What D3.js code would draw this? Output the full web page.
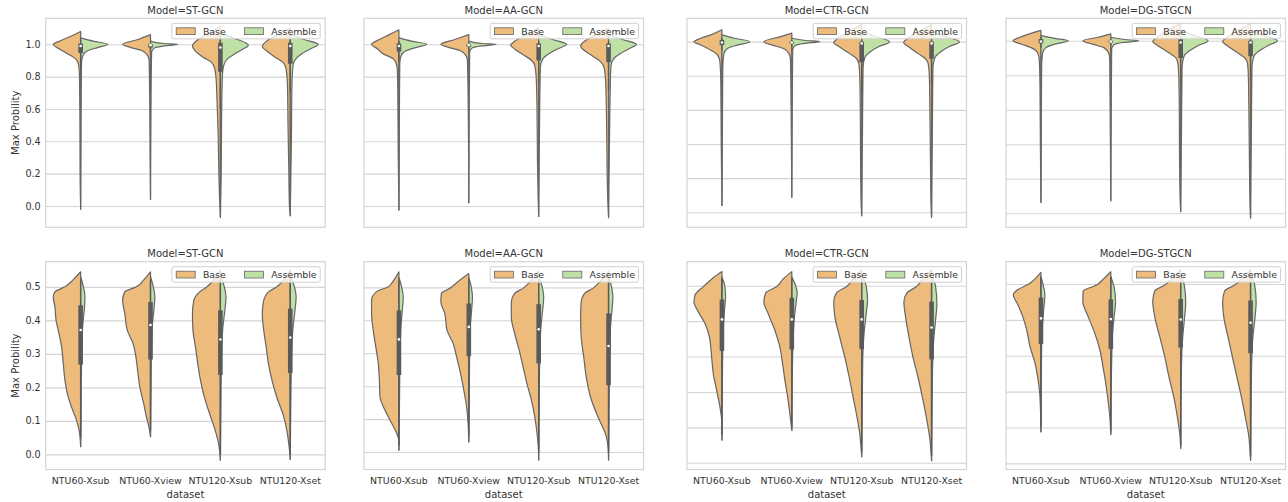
<!DOCTYPE html>
<html>
<head>
<meta charset="utf-8">
<script src="https://cdn.jsdelivr.net/npm/d3@7"></script>
<style>
  body { margin: 0; background: #fff; }
  text { font-family: "DejaVu Sans", sans-serif; fill: #333; }
</style>
</head>
<body>
<div id="chart"></div>
<script>
// Facets and groups
const models = ["ST-GCN", "AA-GCN", "CTR-GCN", "DG-STGCN"];
const datasets = ["NTU60-Xsub", "NTU60-Xview", "NTU120-Xsub", "NTU120-Xset"];
const hues = ["Base", "Assemble"];

// Y ticks for the two rows
const topTicks = [0, 0.2, 0.4, 0.6, 0.8, 1.0];
const bottomTicks = [0, 0.1, 0.2, 0.3, 0.4, 0.5];

// Y ranges (row 1, row 2)
const topDomains = [[-0.132, 1.161], [-0.132, 1.161], [-0.088, 1.137], [-0.081, 1.13]];
const bottomDomains = [[-0.045, 0.575], [-0.053, 0.578], [-0.019, 0.568], [-0.017, 0.562]];

// Half-violin outlines: [value, relative half width], one list per dataset, one block per model
const topBase = [
  [ // ST-GCN
    [[1.08,0],[1.05,0.35],[1.02,0.75],[1.0,0.98],[0.97,0.75],[0.945,0.5],[0.91,0.18],[0.88,0.08],[0.8,0.04],[0.5,0.025],[0.2,0.02],[-0.02,0]],
    [[1.06,0],[1.03,0.45],[1.0,1.0],[0.98,0.7],[0.96,0.3],[0.93,0.1],[0.9,0.05],[0.6,0.025],[0.3,0.015],[0.04,0]],
    [[1.11,0],[1.07,0.4],[1.03,0.8],[0.99,1.0],[0.96,0.9],[0.92,0.62],[0.89,0.33],[0.86,0.22],[0.8,0.16],[0.65,0.12],[0.45,0.08],[0.25,0.06],[0.05,0.03],[-0.07,0]],
    [[1.1,0],[1.06,0.45],[1.02,0.85],[0.985,1.0],[0.96,0.85],[0.925,0.58],[0.89,0.27],[0.85,0.15],[0.75,0.1],[0.5,0.08],[0.2,0.05],[0.0,0.03],[-0.06,0]]
  ],
  [ // AA-GCN
    [[1.09,0],[1.06,0.35],[1.03,0.7],[1.0,0.98],[0.97,0.75],[0.945,0.6],[0.91,0.2],[0.89,0.12],[0.85,0.06],[0.7,0.04],[0.3,0.025],[-0.025,0]],
    [[1.06,0],[1.03,0.5],[1.0,1.0],[0.98,0.7],[0.96,0.3],[0.93,0.1],[0.9,0.05],[0.6,0.02],[0.02,0]],
    [[1.1,0],[1.06,0.45],[1.02,0.85],[0.995,1.0],[0.97,0.85],[0.93,0.5],[0.9,0.25],[0.87,0.14],[0.8,0.09],[0.6,0.06],[0.3,0.045],[0.05,0.02],[-0.065,0]],
    [[1.1,0],[1.06,0.45],[1.02,0.85],[0.99,1.0],[0.96,0.85],[0.925,0.55],[0.89,0.27],[0.85,0.15],[0.75,0.1],[0.5,0.07],[0.2,0.05],[0.0,0.02],[-0.072,0]]
  ],
  [ // CTR-GCN
    [[1.07,0],[1.04,0.4],[1.02,0.75],[1.0,1.0],[0.98,0.75],[0.95,0.4],[0.92,0.15],[0.88,0.07],[0.75,0.04],[0.4,0.025],[0.04,0]],
    [[1.05,0],[1.03,0.4],[1.0,1.0],[0.98,0.7],[0.96,0.3],[0.93,0.1],[0.9,0.05],[0.5,0.02],[0.088,0]],
    [[1.1,0],[1.06,0.45],[1.02,0.85],[0.995,1.0],[0.97,0.8],[0.93,0.43],[0.9,0.18],[0.87,0.1],[0.8,0.07],[0.6,0.05],[0.3,0.04],[0.05,0.02],[-0.02,0]],
    [[1.1,0],[1.06,0.45],[1.02,0.85],[0.995,1.0],[0.97,0.82],[0.93,0.48],[0.9,0.22],[0.87,0.12],[0.8,0.08],[0.6,0.06],[0.3,0.04],[0.05,0.02],[-0.03,0]]
  ],
  [ // DG-STGCN
    [[1.06,0],[1.04,0.4],[1.02,0.75],[1.0,1.0],[0.98,0.7],[0.96,0.35],[0.93,0.12],[0.89,0.06],[0.75,0.035],[0.4,0.02],[0.064,0]],
    [[1.04,0],[1.02,0.45],[1.0,1.0],[0.98,0.65],[0.96,0.25],[0.93,0.08],[0.9,0.04],[0.5,0.02],[0.073,0]],
    [[1.1,0],[1.06,0.45],[1.02,0.85],[0.995,1.0],[0.97,0.8],[0.93,0.42],[0.9,0.17],[0.87,0.1],[0.8,0.07],[0.6,0.05],[0.3,0.04],[0.08,0.02],[0.01,0]],
    [[1.1,0],[1.06,0.45],[1.02,0.85],[0.995,1.0],[0.97,0.82],[0.93,0.46],[0.9,0.2],[0.87,0.11],[0.8,0.08],[0.6,0.06],[0.3,0.04],[0.05,0.02],[-0.027,0]]
  ]
];

const topAssemble = [
  [ // ST-GCN
    [[1.04,0],[1.02,0.45],[1.0,0.98],[0.98,0.6],[0.96,0.25],[0.93,0.08],[0.88,0.03],[0.5,0.015],[-0.02,0]],
    [[1.02,0],[1.005,0.5],[1.0,0.98],[0.99,0.5],[0.975,0.12],[0.95,0.04],[0.6,0.015],[0.04,0]],
    [[1.07,0],[1.04,0.45],[1.01,0.9],[0.995,1.0],[0.97,0.8],[0.94,0.5],[0.91,0.25],[0.87,0.12],[0.8,0.07],[0.5,0.04],[0.2,0.03],[-0.07,0]],
    [[1.06,0],[1.03,0.5],[1.0,1.0],[0.97,0.7],[0.94,0.4],[0.91,0.2],[0.87,0.1],[0.75,0.06],[0.4,0.04],[-0.06,0]]
  ],
  [ // AA-GCN
    [[1.04,0],[1.02,0.45],[1.0,1.0],[0.98,0.6],[0.96,0.25],[0.93,0.08],[0.88,0.03],[0.5,0.015],[-0.025,0]],
    [[1.02,0],[1.005,0.5],[1.0,0.98],[0.99,0.45],[0.975,0.1],[0.95,0.03],[0.5,0.012],[0.02,0]],
    [[1.06,0],[1.03,0.5],[1.0,1.0],[0.97,0.65],[0.94,0.35],[0.91,0.15],[0.86,0.06],[0.5,0.03],[-0.065,0]],
    [[1.06,0],[1.03,0.5],[1.0,1.0],[0.97,0.7],[0.94,0.4],[0.91,0.18],[0.86,0.08],[0.5,0.04],[-0.072,0]]
  ],
  [ // CTR-GCN
    [[1.04,0],[1.02,0.45],[1.0,1.0],[0.98,0.55],[0.96,0.2],[0.93,0.07],[0.85,0.03],[0.4,0.015],[0.04,0]],
    [[1.02,0],[1.007,0.5],[1.0,1.0],[0.99,0.45],[0.975,0.1],[0.95,0.03],[0.5,0.012],[0.088,0]],
    [[1.06,0],[1.03,0.5],[1.0,1.0],[0.97,0.6],[0.94,0.3],[0.91,0.12],[0.85,0.05],[0.5,0.03],[-0.02,0]],
    [[1.06,0],[1.03,0.5],[1.0,1.0],[0.97,0.62],[0.94,0.32],[0.91,0.13],[0.85,0.05],[0.5,0.03],[-0.03,0]]
  ],
  [ // DG-STGCN
    [[1.03,0],[1.015,0.45],[1.0,0.98],[0.98,0.5],[0.96,0.18],[0.93,0.06],[0.85,0.025],[0.4,0.012],[0.064,0]],
    [[1.02,0],[1.007,0.5],[1.0,1.0],[0.99,0.45],[0.975,0.1],[0.95,0.03],[0.5,0.012],[0.073,0]],
    [[1.06,0],[1.03,0.5],[1.0,0.98],[0.97,0.6],[0.94,0.3],[0.91,0.12],[0.85,0.05],[0.5,0.03],[0.01,0]],
    [[1.06,0],[1.03,0.5],[1.0,0.96],[0.97,0.6],[0.94,0.3],[0.91,0.12],[0.85,0.05],[0.5,0.03],[-0.027,0]]
  ]
];

const bottomBase = [
  [ // ST-GCN
    [[0.545,0],[0.52,0.28],[0.5,0.56],[0.485,0.92],[0.47,0.98],[0.44,0.92],[0.40,0.88],[0.37,0.8],[0.32,0.68],[0.27,0.62],[0.22,0.56],[0.17,0.44],[0.14,0.32],[0.10,0.14],[0.07,0.05],[0.023,0]],
    [[0.545,0],[0.52,0.25],[0.5,0.5],[0.485,0.92],[0.46,1.0],[0.42,0.92],[0.37,0.83],[0.33,0.62],[0.30,0.54],[0.25,0.46],[0.20,0.38],[0.15,0.24],[0.11,0.14],[0.08,0.05],[0.053,0]],
    [[0.55,0],[0.52,0.25],[0.5,0.48],[0.485,0.74],[0.46,0.95],[0.42,1.0],[0.37,0.98],[0.32,0.89],[0.27,0.81],[0.22,0.71],[0.17,0.57],[0.12,0.38],[0.07,0.18],[0.03,0.06],[-0.017,0]],
    [[0.55,0],[0.52,0.25],[0.5,0.48],[0.485,0.78],[0.46,0.95],[0.42,1.0],[0.37,0.95],[0.32,0.86],[0.27,0.78],[0.22,0.65],[0.17,0.48],[0.12,0.26],[0.07,0.12],[0.03,0.05],[-0.015,0]]
  ],
  [ // AA-GCN
    [[0.547,0],[0.52,0.2],[0.502,0.38],[0.487,0.8],[0.461,0.98],[0.421,0.98],[0.37,0.92],[0.32,0.83],[0.27,0.74],[0.219,0.7],[0.168,0.68],[0.138,0.56],[0.097,0.32],[0.057,0.08],[0.037,0.01],[0.006,0]],
    [[0.542,0],[0.52,0.35],[0.497,0.68],[0.482,0.98],[0.456,1.0],[0.421,0.86],[0.37,0.78],[0.33,0.56],[0.29,0.44],[0.24,0.3],[0.188,0.18],[0.138,0.08],[0.087,0.025],[0.031,0]],
    [[0.55,0],[0.52,0.28],[0.497,0.56],[0.482,0.86],[0.456,0.98],[0.411,0.98],[0.36,0.86],[0.31,0.7],[0.259,0.56],[0.208,0.42],[0.158,0.26],[0.107,0.14],[0.057,0.06],[0.01,0.01],[-0.024,0]],
    [[0.55,0],[0.52,0.28],[0.497,0.56],[0.482,0.86],[0.456,0.98],[0.411,1.0],[0.35,0.98],[0.29,0.89],[0.229,0.8],[0.168,0.65],[0.107,0.38],[0.047,0.08],[0.006,0.01],[-0.024,0]]
  ],
  [ // CTR-GCN
    [[0.54,0],[0.52,0.35],[0.497,0.67],[0.474,0.96],[0.455,1.0],[0.427,0.85],[0.394,0.61],[0.356,0.45],[0.3,0.37],[0.252,0.31],[0.205,0.19],[0.157,0.07],[0.12,0.01],[0.064,0]],
    [[0.54,0],[0.52,0.3],[0.497,0.55],[0.48,0.93],[0.455,1.0],[0.422,0.85],[0.375,0.61],[0.328,0.43],[0.28,0.33],[0.234,0.25],[0.186,0.15],[0.139,0.07],[0.092,0]],
    [[0.545,0],[0.52,0.3],[0.497,0.55],[0.48,0.9],[0.455,1.0],[0.412,0.96],[0.356,0.79],[0.3,0.61],[0.243,0.45],[0.186,0.31],[0.13,0.17],[0.083,0.07],[0.045,0.025],[0.017,0]],
    [[0.545,0],[0.52,0.3],[0.497,0.55],[0.48,0.88],[0.455,0.99],[0.412,0.93],[0.356,0.81],[0.3,0.67],[0.243,0.49],[0.186,0.33],[0.13,0.19],[0.073,0.07],[0.036,0.025],[0.006,0]]
  ],
  [ // DG-STGCN
    [[0.532,0],[0.515,0.2],[0.502,0.39],[0.483,0.85],[0.469,0.99],[0.446,0.85],[0.409,0.65],[0.372,0.51],[0.325,0.39],[0.279,0.21],[0.232,0.1],[0.186,0.035],[0.088,0]],
    [[0.534,0],[0.515,0.25],[0.497,0.51],[0.48,0.99],[0.451,1.0],[0.409,0.81],[0.362,0.57],[0.316,0.39],[0.269,0.28],[0.223,0.18],[0.176,0.1],[0.13,0.035],[0.081,0]],
    [[0.54,0],[0.515,0.3],[0.497,0.57],[0.48,0.93],[0.451,1.0],[0.409,0.93],[0.353,0.75],[0.297,0.57],[0.241,0.42],[0.186,0.25],[0.13,0.12],[0.084,0.035],[0.042,0]],
    [[0.54,0],[0.515,0.3],[0.497,0.57],[0.48,0.93],[0.451,1.0],[0.409,0.96],[0.353,0.81],[0.297,0.65],[0.241,0.49],[0.186,0.33],[0.13,0.19],[0.074,0.06],[0.03,0.015],[0.009,0]]
  ]
];

const bottomAssemble = [
  [ // ST-GCN
    [[0.53,0],[0.5,0.1],[0.47,0.155],[0.44,0.14],[0.40,0.09],[0.35,0.05],[0.3,0.035],[0.2,0.02],[0.1,0.015],[0.023,0]],
    [[0.53,0],[0.5,0.1],[0.47,0.155],[0.43,0.12],[0.38,0.06],[0.3,0.03],[0.2,0.02],[0.053,0]],
    [[0.535,0],[0.5,0.14],[0.47,0.2],[0.43,0.16],[0.38,0.09],[0.3,0.04],[0.15,0.02],[-0.017,0]],
    [[0.535,0],[0.5,0.15],[0.47,0.21],[0.43,0.17],[0.38,0.1],[0.3,0.05],[0.15,0.02],[-0.015,0]]
  ],
  [ // AA-GCN
    [[0.53,0],[0.5,0.1],[0.47,0.155],[0.43,0.12],[0.38,0.07],[0.3,0.04],[0.15,0.02],[0.006,0]],
    [[0.53,0],[0.5,0.09],[0.47,0.13],[0.43,0.1],[0.38,0.05],[0.3,0.03],[0.031,0]],
    [[0.535,0],[0.5,0.13],[0.47,0.18],[0.43,0.14],[0.38,0.08],[0.3,0.04],[0.15,0.02],[-0.024,0]],
    [[0.535,0],[0.5,0.11],[0.47,0.155],[0.43,0.12],[0.38,0.07],[0.3,0.04],[0.15,0.02],[-0.024,0]]
  ],
  [ // CTR-GCN
    [[0.525,0],[0.5,0.1],[0.47,0.13],[0.43,0.09],[0.38,0.05],[0.3,0.025],[0.064,0]],
    [[0.525,0],[0.5,0.14],[0.48,0.19],[0.45,0.15],[0.4,0.08],[0.3,0.03],[0.092,0]],
    [[0.53,0],[0.5,0.16],[0.46,0.21],[0.42,0.16],[0.37,0.09],[0.3,0.04],[0.15,0.02],[0.017,0]],
    [[0.53,0],[0.5,0.14],[0.45,0.19],[0.4,0.14],[0.35,0.08],[0.28,0.04],[0.15,0.02],[0.006,0]]
  ],
  [ // DG-STGCN
    [[0.52,0],[0.49,0.1],[0.469,0.14],[0.43,0.1],[0.38,0.05],[0.3,0.02],[0.088,0]],
    [[0.52,0],[0.49,0.12],[0.45,0.17],[0.41,0.12],[0.36,0.06],[0.28,0.03],[0.081,0]],
    [[0.525,0],[0.5,0.12],[0.45,0.18],[0.4,0.13],[0.35,0.07],[0.28,0.03],[0.042,0]],
    [[0.53,0],[0.5,0.14],[0.45,0.2],[0.4,0.15],[0.35,0.08],[0.28,0.04],[0.15,0.02],[0.009,0]]
  ]
];

// Inner box: [whisker low, q1, median, q3, whisker high]
const topBox = [
  [[0.85,0.946,0.99,1.005,1.03],[0.95,0.98,0.995,1.0,1.01],[0.6,0.83,0.98,1.01,1.03],[0.7,0.88,0.99,1.01,1.03]],
  [[0.9,0.955,0.99,1.005,1.02],[0.96,0.985,0.995,1.0,1.01],[0.75,0.9,0.99,1.005,1.02],[0.72,0.89,0.99,1.005,1.02]],
  [[0.95,0.98,0.995,1.01,1.02],[0.97,0.99,0.995,1.0,1.01],[0.7,0.88,0.99,1.0,1.02],[0.75,0.9,0.99,1.0,1.02]],
  [[0.96,0.985,0.995,1.01,1.02],[0.97,0.99,0.995,1.0,1.01],[0.75,0.9,0.99,1.01,1.02],[0.77,0.91,0.99,1.0,1.02]]
];
const bottomBox = [
  [[0.05,0.268,0.371,0.445,0.52],[0.07,0.283,0.386,0.455,0.52],[0.0,0.237,0.343,0.43,0.52],[0.0,0.243,0.349,0.435,0.52]],
  [[0.02,0.234,0.342,0.43,0.52],[0.05,0.291,0.38,0.451,0.52],[0.0,0.269,0.373,0.449,0.52],[0.0,0.203,0.322,0.421,0.52]],
  [[0.08,0.316,0.405,0.461,0.52],[0.1,0.32,0.405,0.466,0.52],[0.03,0.321,0.405,0.46,0.52],[0.02,0.292,0.382,0.455,0.52]],
  [[0.1,0.333,0.404,0.462,0.52],[0.09,0.319,0.402,0.457,0.52],[0.05,0.323,0.401,0.458,0.52],[0.02,0.307,0.392,0.454,0.52]]
];

// Setup
const width = 1288;
const height = 502;
const panelLeft = [45.7, 364, 687, 1006];
const panelW = 279.5;
const colors = ["#EDBB7C", "#BFE1A6"];
const gray = "#666";

const rows = [
  {top: 18.3, h: 209, ticks: topTicks, domains: topDomains, base: topBase, assemble: topAssemble, box: topBox},
  {top: 261.7, h: 207.8, ticks: bottomTicks, domains: bottomDomains, base: bottomBase, assemble: bottomAssemble, box: bottomBox}
];

const svg = d3.select("#chart")
    .append("svg")
    .attr("width", width)
    .attr("height", height);

rows.forEach((row, r) => {
  models.forEach((model, c) => {
    const g = svg.append("g")
        .attr("transform", `translate(${panelLeft[c]},${row.top})`);

    const x = d3.scaleBand().domain(datasets).range([0, panelW]);
    const y = d3.scaleLinear().domain(row.domains[c]).range([row.h, 0]);
    const w = d3.scaleLinear().domain([0, 1]).range([0, x.bandwidth() * 0.4]);

    // grid lines
    g.append("g")
        .call(d3.axisLeft(y).tickValues(row.ticks).tickSize(-panelW).tickFormat(""))
        .call(a => a.select(".domain").remove())
        .call(a => a.selectAll("line").attr("stroke", "#d4d4d4").attr("stroke-width", 1.1));

    // frame
    g.append("rect")
        .attr("width", panelW)
        .attr("height", row.h)
        .attr("fill", "none")
        .attr("stroke", "#d4d4d4")
        .attr("stroke-width", 1.2);

    datasets.forEach((ds, i) => {
      const cx = x(ds) + x.bandwidth() / 2;
      const half = side => d3.area()
          .curve(d3.curveMonotoneY)
          .y(d => y(d[0]))
          .x0(cx)
          .x1(d => cx + side * w(d[1]));

      [row.base[c][i], row.assemble[c][i]].forEach((prof, k) => {
        g.append("path")
            .datum(prof)
            .attr("d", half(k === 0 ? -1 : 1))
            .attr("fill", colors[k])
            .attr("stroke", gray)
            .attr("stroke-width", 1.2)
            .attr("stroke-linejoin", "round");
      });

      // inner box
      const b = row.box[c][i];
      g.append("line")
          .attr("x1", cx).attr("x2", cx)
          .attr("y1", y(b[0])).attr("y2", y(b[4]))
          .attr("stroke", "#5a5a5a")
          .attr("stroke-width", 1.4);
      g.append("rect")
          .attr("x", cx - 2.3)
          .attr("width", 4.6)
          .attr("y", y(b[3]))
          .attr("height", Math.max(1, y(b[1]) - y(b[3])))
          .attr("fill", "#5a5a5a");
      g.append("circle")
          .attr("cx", cx)
          .attr("cy", y(b[2]))
          .attr("r", 1.3)
          .attr("fill", "#fff");
    });

    // y tick labels on the first column only
    if (c === 0) {
      g.append("g")
          .call(d3.axisLeft(y).tickValues(row.ticks).tickSize(0).tickPadding(5).tickFormat(d3.format(".1f")))
          .call(a => a.select(".domain").remove())
          .call(a => a.selectAll("text").attr("font-size", "9.6px").attr("font-family", null).style("fill", "#333"));

      svg.append("text")
          .attr("transform", `translate(15,${row.top + row.h / 2}) rotate(-90)`)
          .attr("text-anchor", "middle")
          .attr("dominant-baseline", "central")
          .attr("font-size", "10px")
          .text("Max Probility");
    }

    // x tick labels and axis title on the bottom row
    if (r === 1) {
      g.append("g")
          .attr("transform", `translate(0,${row.h})`)
          .call(d3.axisBottom(x).tickSize(0).tickPadding(8))
          .call(a => a.select(".domain").remove())
          .call(a => a.selectAll("text").attr("font-size", "9.4px").attr("font-family", null).style("fill", "#333"));

      g.append("text")
          .attr("x", panelW / 2)
          .attr("y", row.h + 29)
          .attr("text-anchor", "middle")
          .attr("font-size", "10px")
          .text("dataset");
    }

    // panel title
    g.append("text")
        .attr("x", panelW / 2)
        .attr("y", -4.5)
        .attr("text-anchor", "middle")
        .attr("font-size", "10px")
        .text("Model=" + model);

    // legend, top right, semi transparent frame
    const lg = g.append("g")
        .attr("transform", `translate(${panelW - 153.3},5)`);
    lg.append("rect")
        .attr("width", 148.3)
        .attr("height", 15.5)
        .attr("rx", 2)
        .attr("fill", "#fff")
        .attr("fill-opacity", 0.8)
        .attr("stroke", "#d0d0d0");
    hues.forEach((hue, k) => {
      const ox = k === 0 ? 4.3 : 72.6;
      lg.append("rect")
          .attr("x", ox)
          .attr("y", 4.5)
          .attr("width", 19)
          .attr("height", 6.8)
          .attr("fill", colors[k])
          .attr("stroke", gray)
          .attr("stroke-width", 0.8);
      lg.append("text")
          .attr("x", ox + 26.7)
          .attr("y", 11.6)
          .attr("font-size", "9.4px")
          .text(hue);
    });
  });
});
</script>
</body>
</html>
